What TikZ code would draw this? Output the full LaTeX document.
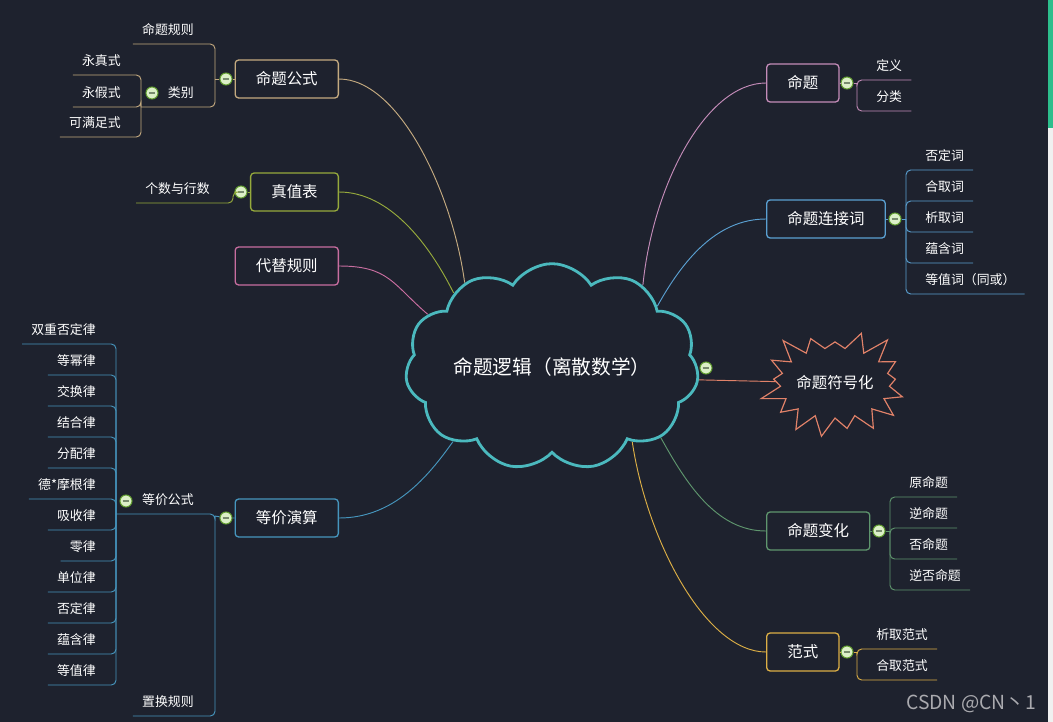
\documentclass[tikz,border=0pt]{standalone}
\usepackage{fontspec}
\setmainfont{Noto Sans CJK SC}
\usetikzlibrary{shapes.symbols}
\pgfdeclarelayer{back}
\pgfsetlayers{back,main}
\definecolor{bg}{RGB}{30,34,46}
\definecolor{cTeal}{RGB}{75,185,190}
\definecolor{cTan}{RGB}{196,170,128}
\definecolor{cOlive}{RGB}{150,170,60}
\definecolor{cPink}{RGB}{200,110,160}
\definecolor{cBlue}{RGB}{70,150,190}
\definecolor{cLilac}{RGB}{196,140,185}
\definecolor{cSky}{RGB}{90,160,210}
\definecolor{cSalmon}{RGB}{225,130,105}
\definecolor{cGreen}{RGB}{95,150,110}
\definecolor{cGold}{RGB}{220,175,70}
\definecolor{btnfill}{RGB}{220,240,200}
\definecolor{btnline}{RGB}{100,160,50}
\definecolor{btnbar}{RGB}{120,140,110}
\definecolor{wm}{RGB}{170,170,175}
\definecolor{scroll}{RGB}{45,190,140}
\definecolor{scrollbg}{RGB}{240,240,240}
\tikzset{
  topic/.style={draw=#1, line width=1.1pt, rounded corners=3pt, fill=bg, text=white,
    font=\fontsize{13.2}{15}\selectfont, minimum height=1.14cm, inner xsep=0.62cm},
  leaf/.style={text=white, font=\fontsize{11}{13}\selectfont, text height=9pt, text depth=1pt,
    inner xsep=7.7pt, inner ysep=7pt},
  btn/.style={circle, draw=btnline, fill=btnfill, line width=0.9pt, minimum size=0.36cm, inner sep=0pt,
    path picture={\draw[btnbar, line width=1.6pt] ([xshift=-0.1cm]path picture bounding box.center)
      -- ([xshift=0.1cm]path picture bounding box.center);}},
  link/.style={draw=#1, line width=0.8pt},
  fork/.style={draw=#1, line width=0.8pt, rounded corners=4pt}
}
\begin{document}
\begin{tikzpicture}[x=0.03cm,y=-0.03cm]
\useasboundingbox (0,0) rectangle (1053,722);
% centre
\node[cloud, cloud puffs=11, cloud puff arc=115, cloud ignores aspect, draw=cTeal, line width=2.4pt, fill=bg,
  minimum width=8.8cm, minimum height=6.2cm, text=white, font=\fontsize{16.8}{18}\selectfont] (root) at (552,367) {命题逻辑（离散数学）};
\node[starburst, starburst points=17, starburst point height=0.7cm, random starburst=23, draw=cSalmon,
  fill=bg, line width=1pt, text=white, font=\fontsize{13.2}{15}\selectfont,
  inner xsep=0pt, inner ysep=15pt] (fh) at (835,383) {命题符号化};
% main topics
\node[topic=cTan, anchor=east] (gs) at (339,79) {命题公式};
\node[topic=cOlive, anchor=east] (zz) at (339,192) {真值表};
\node[topic=cPink, anchor=east] (dt) at (339,266) {代替规则};
\node[topic=cBlue, anchor=east] (dj) at (339,518) {等价演算};
\node[topic=cLilac, anchor=west] (mt) at (766,83) {命题};
\node[topic=cSky, anchor=west] (lj) at (766,219) {命题连接词};
\node[topic=cGreen, anchor=west] (bh) at (766,531) {命题变化};
\node[topic=cGold, anchor=west] (fs) at (766,652) {范式};
% buttons
\node[btn] (b0) at (706,368) {};
\node[btn] (bgs) at (226,79) {};
\node[btn] (bzz) at (241,192) {};
\node[btn] (bdj) at (226,518) {};
\node[btn] (blb) at (152,93) {};
\node[btn] (bgg) at (126,501) {};
\node[btn] (bmt) at (847,83) {};
\node[btn] (blj) at (895,219) {};
\node[btn] (bbh) at (879,531) {};
\node[btn] (bfs) at (847,652) {};
% forks
\coordinate (jgs) at (215,79);
\coordinate (jlb) at (141,107);
\coordinate (jzz) at (233,192);
\coordinate (jdj) at (215,516);
\coordinate (jgg) at (116,514);
\coordinate (jmt) at (857,83);
\coordinate (jlj) at (906,219);
\coordinate (jbh) at (890,531);
\coordinate (jfs) at (857,652);

% 命题公式
\draw[link=cTan] (gs) -- (bgs) -- (jgs);
\node[leaf, anchor=south east] (gz) at (203,44) {命题规则};
\draw[fork=cTan] (gz.south west) -| (jgs);
\node[leaf, anchor=south east] (lb) at (203,107) {类别};
\draw[fork=cTan] (jlb) -| (jgs);
\foreach \s/\y [count=\i] in {永真式/75,永假式/107,可满足式/137}{
  \node[leaf, anchor=south east] (lb\i) at (130,\y) {\s};
  \draw[fork=cTan] (lb\i.south west) -| (jlb);
}
% 真值表
\node[leaf, anchor=south east] (gx) at (219,203) {个数与行数};
\draw[fork=cOlive] (gx.south west) -| (jzz) -- (bzz);
\draw[link=cOlive] (bzz) -- (zz);
% 等价演算
\draw[link=cBlue] (dj) -- (bdj) -- (jdj);
\node[leaf, anchor=south east] (gg) at (203,514) {等价公式};
\draw[fork=cBlue] (jgg) -| (jdj);
\node[leaf, anchor=south east] (zh) at (203,716) {置换规则};
\draw[fork=cBlue] (zh.south west) -| (jdj);
\foreach \s/\y [count=\i] in {双重否定律/344,等幂律/375,交换律/406,结合律/437,分配律/468,德*摩根律/499,
  吸收律/530,零律/561,单位律/592,否定律/623,蕴含律/654,等值律/685}{
  \node[leaf, anchor=south east] (lw\i) at (105,\y) {\s};
  \draw[fork=cBlue] (lw\i.south west) -| (jgg);
}
% 命题
\draw[link=cLilac] (mt) -- (bmt) -- (jmt);
\foreach \s/\y [count=\i] in {定义/80,分类/111}{
  \node[leaf, anchor=south west] (mt\i) at (867,\y) {\s};
  \draw[fork=cLilac] (mt\i.south east) -| (jmt);
}
% 命题连接词
\draw[link=cSky] (lj) -- (blj) -- (jlj);
\foreach \s/\y [count=\i] in {否定词/170,合取词/201,析取词/232,蕴含词/263,等值词（同或）/294}{
  \node[leaf, anchor=south west] (lj\i) at (916,\y) {\s};
  \draw[fork=cSky] (lj\i.south east) -| (jlj);
}
% 命题变化
\draw[link=cGreen] (bh) -- (bbh) -- (jbh);
\foreach \s/\y [count=\i] in {原命题/497,逆命题/528,否命题/559,逆否命题/590}{
  \node[leaf, anchor=south west] (bh\i) at (900,\y) {\s};
  \draw[fork=cGreen] (bh\i.south east) -| (jbh);
}
% 范式
\draw[link=cGold] (fs) -- (bfs) -- (jfs);
\foreach \s/\y [count=\i] in {析取范式/649,合取范式/680}{
  \node[leaf, anchor=south west] (fs\i) at (867,\y) {\s};
  \draw[fork=cGold] (fs\i.south east) -| (jfs);
}

% branches to the centre
\begin{pgfonlayer}{back}
\fill[bg] (0,0) rectangle (1053,722);
\draw[link=cTan] (gs.east) .. controls +(60,0) and +(-12,-90) .. (root.136);
\draw[link=cOlive] (zz.east) .. controls +(50,0) and +(-25,-50) .. (root.143);
\draw[link=cPink] (dt.east) .. controls +(50,0) and +(-35,-30) .. (root.157);
\draw[link=cBlue] (dj.east) .. controls +(55,0) and +(-25,35) .. (root.217);
\draw[link=cLilac] (mt.west) .. controls +(-60,0) and +(10,-100) .. (root.42);
\draw[link=cSky] (lj.west) .. controls +(-50,0) and +(25,-45) .. (root.30);
\draw[link=cSalmon] (root.-5) -- (fh.center);
\draw[link=cGreen] (bh.west) .. controls +(-50,0) and +(25,45) .. (root.-33);
\draw[link=cGold] (fs.west) .. controls +(-60,0) and +(15,100) .. (root.-43);
\end{pgfonlayer}

\fill[scroll] (1048,0) rectangle (1053,128);
\fill[scrollbg] (1048,128) rectangle (1053,722);
\node[text=wm, font=\fontsize{16.5}{18}\selectfont, anchor=east] (wm) at (1040,704) {CSDN @CN丶1};
\end{tikzpicture}
\end{document}
